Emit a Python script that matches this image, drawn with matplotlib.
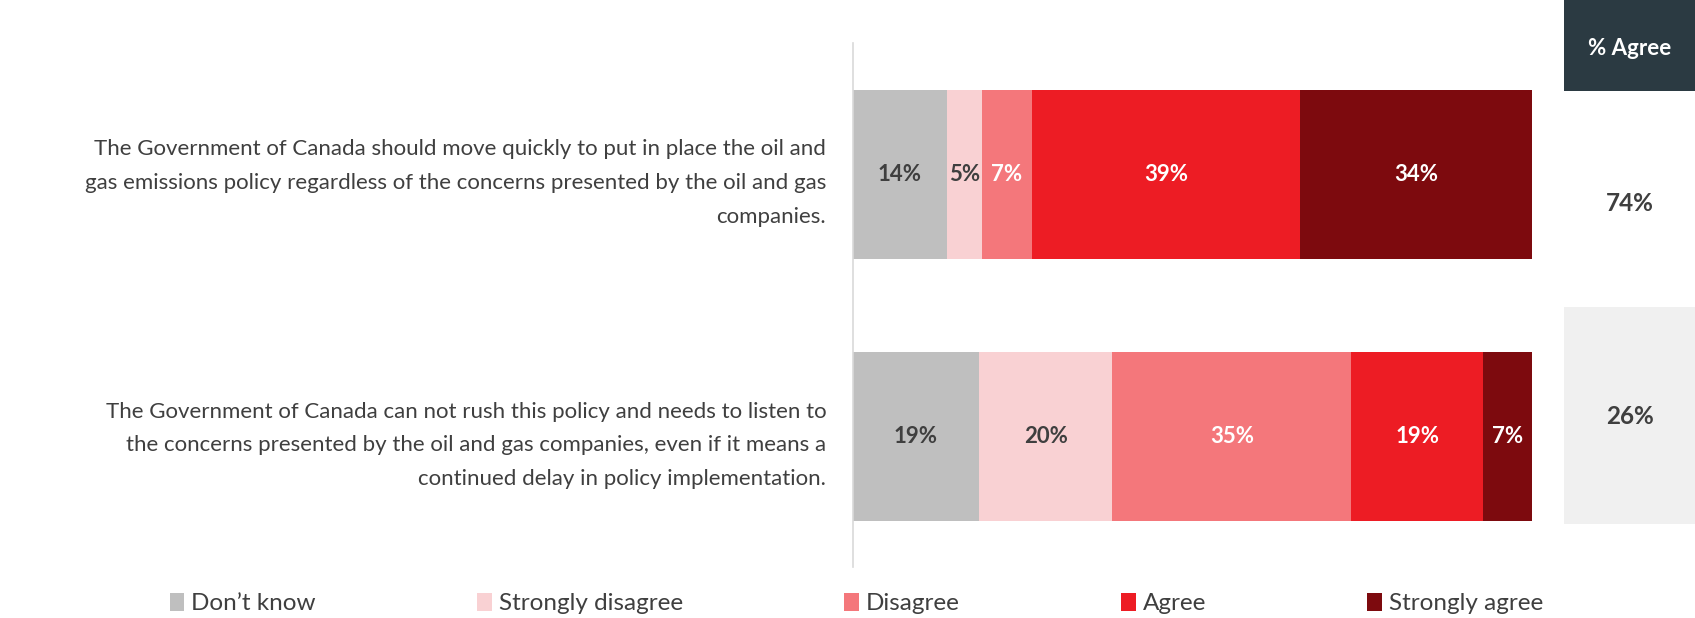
import matplotlib.pyplot as plt
from matplotlib.patches import Rectangle

plt.rcParams['font.family'] = ['Lato', 'DejaVu Sans']

#####################
# data
statements = [
    "The Government of Canada should move quickly to put in place the oil and\n"
    "gas emissions policy regardless of the concerns presented by the oil and gas\n"
    "companies.",
    "The Government of Canada can not rush this policy and needs to listen to\n"
    "the concerns presented by the oil and gas companies, even if it means a\n"
    "continued delay in policy implementation.",
]
responses = ["Don\u2019t know", "Strongly disagree", "Disagree", "Agree", "Strongly agree"]
dont_know = [13.9, 18.6]
strongly_disagree = [5.1, 19.6]
disagree = [7.4, 35.2]
agree = [39.4, 19.4]
strongly_agree = [34.2, 7.2]
pct_agree = [74, 26]
#####################

colors = ["#bfbfbf", "#f9d1d3", "#f4777b", "#ed1c24", "#7d0a0e"]
label_colors = ["#3f3f3f", "#3f3f3f", "white", "white", "white"]
txt = "#3f3f3f"

fig = plt.figure(figsize=(16.95, 6.18), dpi=100)
ax = fig.add_axes([0.503, 0.082, 0.401, 0.848])

series = [dont_know, strongly_disagree, disagree, agree, strongly_agree]
ypos = list(range(len(statements)))
left = [0.0] * len(statements)
for s, vals in enumerate(series):
    bars = ax.barh(ypos, vals, left=left, height=0.645, color=colors[s],
                   label=responses[s], edgecolor="none")
    for i, v in enumerate(vals):
        ax.text(left[i] + v / 2, ypos[i], f"{v:.0f}%", ha="center", va="center",
                fontsize=16, fontweight="bold", color=label_colors[s])
    left = [left[i] + vals[i] for i in range(len(vals))]

ax.set_xlim(0, 100)
ax.set_ylim(1.5, -0.5)
ax.set_xticks([])
ax.set_yticks(ypos)
ax.set_yticklabels(statements, fontsize=16, color=txt, linespacing=1.85,
                   multialignment="right")
ax.tick_params(axis="y", length=0, pad=19)
for sp in ["top", "right", "bottom"]:
    ax.spines[sp].set_visible(False)
ax.spines["left"].set_color("#d9d9d9")
ax.spines["left"].set_linewidth(1.2)

# % Agree column
fig.patches.append(Rectangle((0.923, 0.853), 0.077, 0.147, transform=fig.transFigure,
                             facecolor="#2b3a42", edgecolor="none"))
fig.text(0.9615, 0.921, "% Agree", ha="center", va="center", fontsize=16,
         fontweight="bold", color="white")
fig.patches.append(Rectangle((0.923, 0.152), 0.077, 0.351, transform=fig.transFigure,
                             facecolor="#f0f0f0", edgecolor="none"))
row_y = [0.671, 0.326]
for i, v in enumerate(pct_agree):
    fig.text(0.9615, row_y[i], f"{v}%", ha="center", va="center", fontsize=17.5,
             fontweight="bold", color=txt)

leg = ax.legend(loc="lower left", bbox_to_anchor=(0.100, 0.006),
                bbox_transform=fig.transFigure, ncol=5, frameon=False,
                fontsize=17.5, handlelength=0.6, handleheight=0.8,
                handletextpad=0.3, columnspacing=6.63, borderpad=0, borderaxespad=0)
for t in leg.get_texts():
    t.set_color(txt)

plt.savefig("out.png", dpi=100)
